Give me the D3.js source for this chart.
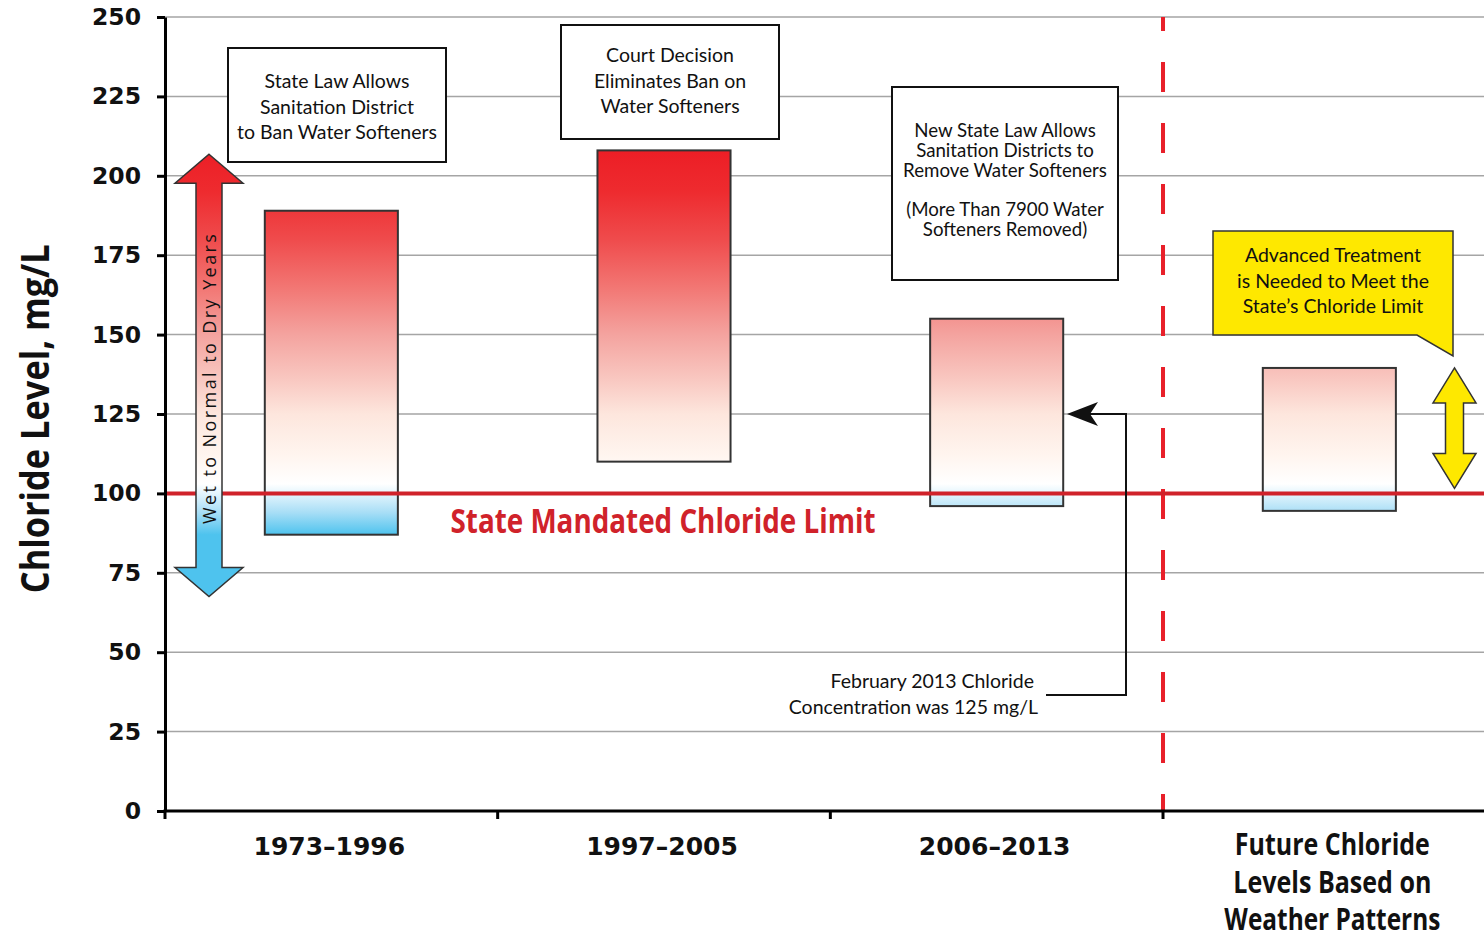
<!DOCTYPE html>
<html>
<head>
<meta charset="utf-8">
<script src="https://cdn.jsdelivr.net/npm/d3@7"></script>
<style>
  body { margin: 0; background: #fff; }
  svg { display: block; }
</style>
</head>
<body>
<div id="chart"></div>
<script>
// chart values
const periods = ["1973–1996", "1997–2005", "2006–2013", "Future"];
const periodLabels = [["1973–1996"], ["1997–2005"], ["2006–2013"], ["Future Chloride", "Levels Based on", "Weather Patterns"]];
const highs = [189, 208, 155, 139.5];
const lows = [87, 110, 96, 94.5];
const yTicks = [0, 25, 50, 75, 100, 125, 150, 175, 200, 225, 250];
const limit = 100;
const feb2013 = 125;

const w = 1484;
const h = 940;

const y = d3.scaleLinear().domain([0, 250]).range([811, 17]);
const x = d3.scaleBand().domain(periods).range([165, 165 + 4 * 332.67]);
const bw = x.bandwidth();

const svg = d3.select("#chart").append("svg")
  .attr("width", w).attr("height", h);

// shared red -> white -> blue gradient, laid out in value space
const stops = [
  [210, "#ec1c24"], [195, "#ee2b2f"], [180, "#ef4b4c"], [165, "#f27673"],
  [150, "#f4a39f"], [135, "#f9cac3"], [125, "#fde6dd"], [112, "#fff5ef"],
  [103, "#ffffff"], [100, "#e4f5fd"], [94, "#a8def6"], [87, "#4ec3ee"]
];
const defs = svg.append("defs");
const grad = defs.append("linearGradient")
  .attr("id", "chl")
  .attr("gradientUnits", "userSpaceOnUse")
  .attr("x1", 0).attr("x2", 0)
  .attr("y1", y(210)).attr("y2", y(87));
grad.selectAll("stop").data(stops).enter().append("stop")
  .attr("offset", d => (210 - d[0]) / (210 - 87))
  .attr("stop-color", d => d[1]);

// gridlines
svg.append("g").selectAll("line")
  .data(yTicks.filter(d => d > 0))
  .enter().append("line")
  .attr("x1", 165).attr("x2", w)
  .attr("y1", d => y(d)).attr("y2", d => y(d))
  .attr("stroke", "#a5a5a5").attr("stroke-width", 1.5);

// divider before the future period
svg.append("line")
  .attr("x1", x("Future")).attr("x2", x("Future"))
  .attr("y1", y(250)).attr("y2", y(0))
  .attr("stroke", "#e8202a").attr("stroke-width", 4)
  .attr("stroke-dasharray", "30,31").attr("stroke-dashoffset", 16);

// bars
svg.append("g").selectAll("rect")
  .data(periods)
  .enter().append("rect")
  .attr("x", d => x(d) + bw * 0.3)
  .attr("width", bw * 0.4)
  .attr("y", (d, i) => y(highs[i]))
  .attr("height", (d, i) => y(lows[i]) - y(highs[i]))
  .attr("fill", "url(#chl)")
  .attr("stroke", "#333").attr("stroke-width", 2);

// state limit
svg.append("line")
  .attr("x1", 165).attr("x2", w)
  .attr("y1", y(limit)).attr("y2", y(limit))
  .attr("stroke", "#d0222a").attr("stroke-width", 4);

svg.append("text")
  .attr("x", x(periods[1]) + bw / 2 - 1)
  .attr("y", y(limit) + 40)
  .attr("text-anchor", "middle")
  .attr("font-family", "'Open Sans'")
  .attr("font-weight", "bold")
  .attr("font-size", 34)
  .attr("textLength", 425).attr("lengthAdjust", "spacingAndGlyphs")
  .attr("fill", "#d0222a")
  .text("State Mandated Chloride Limit");

// double arrows
function dblArrow(cx, yt, yb, hh, hs, hl) {
  return `M${cx},${yt}L${cx + hh},${yt + hl}L${cx + hs},${yt + hl}L${cx + hs},${yb - hl}L${cx + hh},${yb - hl}` +
    `L${cx},${yb}L${cx - hh},${yb - hl}L${cx - hs},${yb - hl}L${cx - hs},${yt + hl}L${cx - hh},${yt + hl}Z`;
}

svg.append("path")
  .attr("d", dblArrow(209, y(206.8), y(67.5), 34, 13, 29))
  .attr("fill", "url(#chl)")
  .attr("stroke", "#333").attr("stroke-width", 1.5);

svg.append("text")
  .attr("transform", "translate(216," + y(136) + ") rotate(-90)")
  .attr("text-anchor", "middle")
  .attr("font-family", "'Open Sans'")
  .attr("font-size", 18)
  .attr("textLength", 290).attr("lengthAdjust", "spacing")
  .attr("fill", "#111")
  .text("Wet to Normal to Dry Years");

svg.append("path")
  .attr("d", dblArrow(1454.5, y(highs[3]), y(limit) - 5, 21.5, 9, 35))
  .attr("fill", "#fee800")
  .attr("stroke", "#333").attr("stroke-width", 1.5);

// axes
const yAxis = d3.axisLeft(y).tickValues(yTicks).tickSize(8).tickSizeOuter(0).tickPadding(16);
const gy = svg.append("g")
  .attr("transform", "translate(165,0)")
  .call(yAxis);
gy.select(".domain").attr("stroke", "#000").attr("stroke-width", 3);
gy.selectAll(".tick line").attr("stroke", "#000").attr("stroke-width", 3);
gy.selectAll(".tick text")
  .attr("font-family", "'DejaVu Sans'")
  .attr("font-weight", "bold")
  .attr("font-size", 23.5)
  .attr("fill", "#111");

svg.append("line")
  .attr("x1", 163.5).attr("x2", w)
  .attr("y1", y(0)).attr("y2", y(0))
  .attr("stroke", "#000").attr("stroke-width", 3);

svg.append("g").selectAll("line")
  .data(periods)
  .enter().append("line")
  .attr("x1", d => x(d)).attr("x2", d => x(d))
  .attr("y1", y(0)).attr("y2", y(0) + 8)
  .attr("stroke", "#000").attr("stroke-width", 3);

const futureWidths = [195, 198, 216];
svg.append("g").selectAll("text")
  .data(periods)
  .enter().append("text")
  .attr("text-anchor", "middle")
  .attr("fill", "#111")
  .each(function (d, i) {
    const t = d3.select(this);
    const lines = periodLabels[i];
    if (lines.length === 1) {
      t.attr("font-family", "'DejaVu Sans'").attr("font-weight", "bold").attr("font-size", 25);
      t.append("tspan").attr("x", x(d) + bw / 2 - 2).attr("y", 855).text(lines[0]);
    } else {
      t.attr("font-family", "'Open Sans'").attr("font-weight", "bold").attr("font-size", 31);
      lines.forEach((s, k) => {
        t.append("tspan")
          .attr("x", x(d) + bw / 2 + 3).attr("y", 855 + k * 37.5)
          .attr("textLength", futureWidths[k]).attr("lengthAdjust", "spacingAndGlyphs")
          .text(s);
      });
    }
  });

svg.append("text")
  .attr("transform", "translate(49," + y(123.5) + ") rotate(-90)")
  .attr("text-anchor", "middle")
  .attr("font-family", "'Open Sans'")
  .attr("font-weight", "bold")
  .attr("font-size", 40)
  .attr("textLength", 349).attr("lengthAdjust", "spacingAndGlyphs")
  .attr("fill", "#111")
  .text("Chloride Level, mg/L");

// annotation boxes
const boxFont = "Lato";
function note(x0, y0, x1, y1, lines, base, step, fill, size, path) {
  if (path) {
    svg.append("path").attr("d", path)
      .attr("fill", fill).attr("stroke", "#333").attr("stroke-width", 1.5);
  } else {
    svg.append("rect")
      .attr("x", x0).attr("y", y0).attr("width", x1 - x0).attr("height", y1 - y0)
      .attr("fill", fill).attr("stroke", "#111").attr("stroke-width", 2);
  }
  const t = svg.append("text")
    .attr("text-anchor", "middle")
    .attr("font-family", boxFont)
    .attr("font-size", size)
    .attr("fill", "#111");
  lines.forEach((s, k) => {
    t.append("tspan").attr("x", (x0 + x1) / 2).attr("y", base + k * step).text(s);
  });
}

note(228, 48, 446, 162, ["State Law Allows", "Sanitation District", "to Ban Water Softeners"], 88, 25.5, "#fff", 19.5);
note(561, 25, 779, 139, ["Court Decision", "Eliminates Ban on", "Water Softeners"], 62, 25.5, "#fff", 19.5);
note(892, 87, 1118, 280, ["New State Law Allows", "Sanitation Districts to", "Remove Water Softeners", "", "(More Than 7900 Water", "Softeners Removed)"], 137, 19.8, "#fff", 18.7);
note(1213, 231, 1453, 335, ["Advanced Treatment", "is Needed to Meet the", "State’s Chloride Limit"], 262, 25.5, "#fee800", 19.5,
  "M1213,231H1453V356L1417,335H1213Z");

// February 2013 pointer
const yf = y(feb2013);
svg.append("path")
  .attr("d", `M1046,${y(36.5)}H1126V${yf}H1090`)
  .attr("fill", "none").attr("stroke", "#111").attr("stroke-width", 2);
svg.append("path")
  .attr("d", `M1067,${yf}L1098,${yf - 12}L1090,${yf}L1098,${yf + 12}Z`)
  .attr("fill", "#111");

const ft = svg.append("text")
  .attr("text-anchor", "end")
  .attr("font-family", boxFont)
  .attr("font-size", 19.5)
  .attr("fill", "#111");
ft.append("tspan").attr("x", 1034).attr("y", 688).text("February 2013 Chloride");
ft.append("tspan").attr("x", 1038).attr("y", 714).text("Concentration was 125 mg/L");
</script>
</body>
</html>
